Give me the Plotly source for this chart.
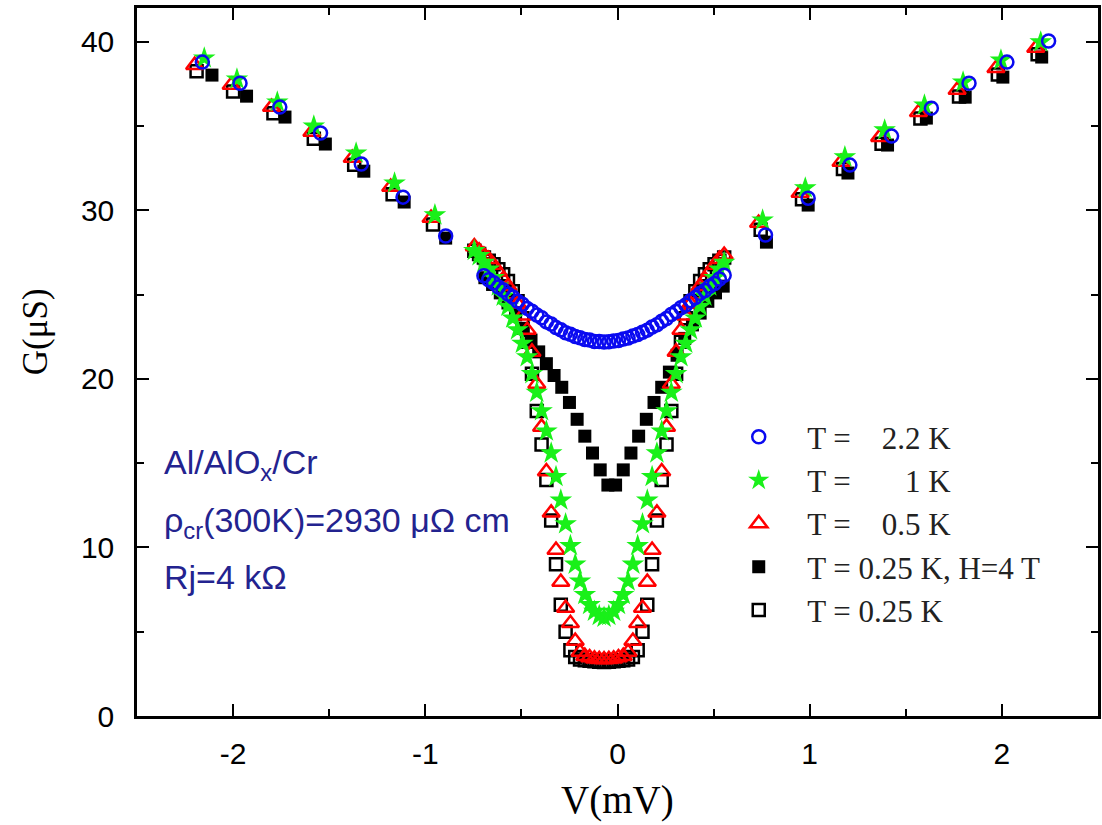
import plotly.graph_objects as go

# Fine low-bias voltage sweep (mV), shared by several temperatures
v_sweep = [-0.745, -0.72, -0.695, -0.67, -0.645, -0.62, -0.595, -0.57, -0.545, -0.52,
           -0.495, -0.47, -0.445, -0.42, -0.395, -0.37, -0.345, -0.32, -0.295, -0.27,
           -0.245, -0.22, -0.195, -0.17, -0.145, -0.12, -0.095, -0.07, -0.045, -0.02,
           0.005, 0.03, 0.055, 0.08, 0.105, 0.13, 0.155, 0.18, 0.205, 0.23,
           0.255, 0.28, 0.305, 0.33, 0.355, 0.38, 0.405, 0.43, 0.455, 0.48,
           0.505, 0.53, 0.555]

# ---- T = 2.2 K ----
v_t22_left = [-2.160, -1.964, -1.757, -1.545, -1.333, -1.116, -0.894]
g_t22_left = [38.79, 37.54, 36.12, 34.58, 32.74, 30.78, 28.47]
v_t22_sweep = v_sweep[2:]
g_t22_sweep = [26.12, 25.88, 25.70, 25.45, 25.27, 25.03, 24.85, 24.60, 24.42, 24.18,
               24.01, 23.79, 23.62, 23.38, 23.25, 23.04, 22.91, 22.74, 22.65, 22.51,
               22.44, 22.33, 22.30, 22.22, 22.22, 22.19, 22.20, 22.25, 22.28, 22.36,
               22.42, 22.54, 22.63, 22.77, 22.89, 23.08, 23.21, 23.42, 23.58, 23.82,
               23.99, 24.22, 24.38, 24.64, 24.82, 25.07, 25.24, 25.49, 25.66, 25.92,
               26.14]
v_t22_right = [0.770, 0.992, 1.209, 1.426, 1.633, 1.829, 2.026, 2.243]
g_t22_right = [28.53, 30.72, 32.68, 34.40, 36.06, 37.54, 38.79, 40.04]

# ---- T = 1 K ----
v_t1_left = [-2.15, -1.98, -1.77, -1.58, -1.36, -1.16, -0.95]
g_t1_left = [39.03, 37.78, 36.42, 34.99, 33.39, 31.61, 29.72]
g_t1_sweep = [27.6, 27.3, 26.9, 26.5, 26.0, 25.5, 24.9, 24.3, 23.6, 22.9,
              22.1, 21.3, 20.3, 19.2, 18.1, 16.9, 15.6, 14.2, 12.8, 11.4,
              10.1, 9.0, 8.0, 7.2, 6.6, 6.2, 5.95, 5.85, 5.95, 6.2,
              6.6, 7.2, 8.0, 9.0, 10.1, 11.4, 12.8, 14.2, 15.6, 16.9,
              18.1, 19.2, 20.3, 21.3, 22.1, 22.9, 23.6, 24.3, 24.9, 25.5,
              26.0, 26.5, 26.9]
v_t1_right = [0.755, 0.977, 1.183, 1.390, 1.597, 1.798, 1.995, 2.202]
g_t1_right = [29.42, 31.32, 33.16, 34.76, 36.24, 37.60, 38.91, 39.98]

# ---- T = 0.5 K ----
v_t05_left = [-2.20, -2.01, -1.80, -1.59, -1.38, -1.18, -0.97]
g_t05_left = [38.61, 37.43, 36.12, 34.64, 33.10, 31.38, 29.54]
g_t05_sweep = [27.85, 27.6, 27.35, 27.1, 26.75, 26.35, 25.9, 25.5, 25.0, 24.45,
               23.75, 22.9, 21.6, 19.7, 17.15, 14.5, 12.05, 9.85, 7.95, 6.4,
               5.5, 4.45, 3.8, 3.55, 3.47, 3.4, 3.37, 3.35, 3.37, 3.4,
               3.47, 3.55, 3.8, 4.45, 5.5, 6.4, 7.95, 9.85, 12.05, 14.5,
               17.15, 19.7, 21.6, 22.9, 23.75, 24.45, 25.0, 25.5, 25.9, 26.35,
               26.75, 27.1, 27.35]
v_t05_right = [0.734, 0.950, 1.163, 1.364, 1.566, 1.767, 1.969, 2.176]
g_t05_right = [29.24, 31.02, 32.86, 34.34, 35.82, 37.13, 38.43, 39.62]

# ---- T = 0.25 K, H = 4 T ----
v_t025h_left = [-2.11, -1.93, -1.73, -1.52, -1.32, -1.11, -0.894]
g_t025h_left = [38.02, 36.77, 35.53, 33.93, 32.32, 30.49, 28.35]
v_t025h_sweep = [-0.69, -0.65, -0.61, -0.57, -0.53, -0.49, -0.45, -0.41, -0.37, -0.33,
                 -0.29, -0.25, -0.21, -0.17, -0.13, -0.09, -0.05, -0.01, 0.03, 0.07,
                 0.11, 0.15, 0.19, 0.23, 0.27, 0.31, 0.35, 0.39, 0.43, 0.47,
                 0.51, 0.55]
g_t025h_sweep = [26.0, 25.6, 25.1, 24.5, 23.8, 23.0, 22.3, 21.6, 20.9, 20.2,
                 19.5, 18.6, 17.6, 16.6, 15.6, 14.6, 13.7, 13.7, 14.6, 15.6,
                 16.6, 17.6, 18.6, 19.5, 20.4, 21.4, 22.4, 23.2, 23.9, 24.6,
                 25.1, 25.5]
v_t025h_right = [0.775, 0.992, 1.199, 1.405, 1.607, 1.809, 2.005, 2.207]
g_t025h_right = [28.11, 30.31, 32.21, 33.87, 35.47, 36.71, 37.90, 39.09]

# ---- T = 0.25 K ----
v_t025_left = [-2.19, -2.00, -1.79, -1.58, -1.37, -1.17, -0.96]
g_t025_left = [38.25, 37.05, 35.75, 34.25, 32.70, 30.95, 29.15]
g_t025_sweep = [27.6, 27.4, 27.2, 27.0, 26.8, 26.5, 26.2, 25.8, 25.2, 24.6,
                23.6, 22.2, 20.3, 18.1, 16.1, 14.0, 11.6, 9.0, 6.6, 5.0,
                3.9, 3.5, 3.35, 3.3, 3.28, 3.25, 3.22, 3.2, 3.22, 3.25,
                3.28, 3.3, 3.35, 3.5, 3.9, 5.0, 6.6, 9.0, 11.6, 14.0,
                16.1, 18.1, 20.3, 22.2, 23.6, 24.6, 25.2, 25.8, 26.2, 26.5,
                26.8, 27.0, 27.2]
v_t025_right = [0.745, 0.960, 1.173, 1.374, 1.576, 1.777, 1.979, 2.186]
g_t025_right = [28.85, 30.65, 32.45, 33.95, 35.45, 36.75, 38.05, 39.25]

x_ticks = [-2, -1, 0, 1, 2]
x_tick_text = ["-2", "-1", "0", "1", "2"]
y_ticks = [0, 10, 20, 30, 40]

NBSP = "\u00a0"
series = [
    # drawing order: open squares at the back, blue circles on top
    dict(name="T = 0.25 K", rank=5,
         v=v_t025_left + v_sweep + v_t025_right,
         g=g_t025_left + g_t025_sweep + g_t025_right,
         marker=dict(symbol="square-open", size=12, color="black",
                     line=dict(width=2.5, color="black"))),
    dict(name="T = 0.25 K, H=4 T", rank=4,
         v=v_t025h_left + v_t025h_sweep + v_t025h_right,
         g=g_t025h_left + g_t025h_sweep + g_t025h_right,
         marker=dict(symbol="square", size=13, color="black")),
    dict(name="T =" + NBSP * 4 + "0.5 K", rank=3,
         v=v_t05_left + v_sweep + v_t05_right,
         g=g_t05_left + g_t05_sweep + g_t05_right,
         marker=dict(symbol="triangle-up-open", size=15, color="#ff0000",
                     line=dict(width=2.5, color="#ff0000"))),
    dict(name="T =" + NBSP * 7 + "1 K", rank=2,
         v=v_t1_left + v_sweep + v_t1_right,
         g=g_t1_left + g_t1_sweep + g_t1_right,
         marker=dict(symbol="star", size=17, color="#19f019",
                     line=dict(width=0))),
    dict(name="T =" + NBSP * 4 + "2.2 K", rank=1,
         v=v_t22_left + v_t22_sweep + v_t22_right,
         g=g_t22_left + g_t22_sweep + g_t22_right,
         marker=dict(symbol="circle-open", size=13, color="#0a0af0",
                     line=dict(width=2.5, color="#0a0af0"))),
]

fig = go.Figure()
for s in series:
    assert len(s["v"]) == len(s["g"]), s["name"]
    fig.add_trace(go.Scatter(
        x=s["v"], y=s["g"], mode="markers", name=s["name"],
        legendrank=s["rank"], legendgroup=s["name"],
        marker=s["marker"],
    ))

axis_common = dict(
    showgrid=False, zeroline=False, showline=True, linecolor="black",
    linewidth=2.5, mirror="ticks", ticks="inside", tickwidth=2,
    tickcolor="black", ticklen=12,
    tickfont=dict(family="Liberation Sans, Arial, sans-serif", size=30, color="black"),
)

serif = "Liberation Serif, Times New Roman, serif"

fig.update_layout(
    width=1102, height=825,
    margin=dict(l=137, r=1, t=8, b=109),
    paper_bgcolor="white", plot_bgcolor="white",
    xaxis=dict(range=[-2.5, 2.5], tickvals=x_ticks, ticktext=x_tick_text,
               ticklabelstandoff=9,
               minor=dict(dtick=0.5, tick0=0, ticks="inside", ticklen=7,
                          tickwidth=2, tickcolor="black"),
               **axis_common),
    yaxis=dict(range=[0, 42], tickvals=y_ticks, ticklabelstandoff=14,
               minor=dict(dtick=5, tick0=0, ticks="inside", ticklen=7,
                          tickwidth=2, tickcolor="black"),
               **axis_common),
    legend=dict(
        x=0.5965, y=0.432, xanchor="left", yanchor="top",
        bgcolor="rgba(0,0,0,0)", borderwidth=0,
        font=dict(family=serif, size=31, color="#222222"),
        tracegroupgap=0, itemwidth=87,
    ),
    showlegend=True,
)

# axis titles
fig.add_annotation(text="V(mV)", xref="paper", yref="paper", x=0.5, y=-0.1186,
                   xanchor="center", yanchor="middle", showarrow=False,
                   font=dict(family=serif, size=39, color="black"))
fig.add_annotation(text="G(\u03bcS)", xref="paper", yref="paper", x=-0.1048, y=0.5424,
                   xanchor="center", yanchor="middle", showarrow=False, textangle=-90,
                   font=dict(family=serif, size=35, color="black"))

note_font = dict(family="Liberation Sans, Arial, sans-serif", size=34, color="#23238f")
notes = [
    ("Al/AlO<sub>x</sub>/Cr", 14.9),
    ("\u03c1<sub>cr</sub>(300K)=2930 \u03bc\u03a9 cm", 11.45),
    ("Rj=4 k\u03a9", 8.24),
]
for text, gy in notes:
    fig.add_annotation(x=-2.37, y=gy, xref="x", yref="y", text=text,
                       showarrow=False, xanchor="left", yanchor="middle",
                       font=note_font)

fig.write_html("out.html")
